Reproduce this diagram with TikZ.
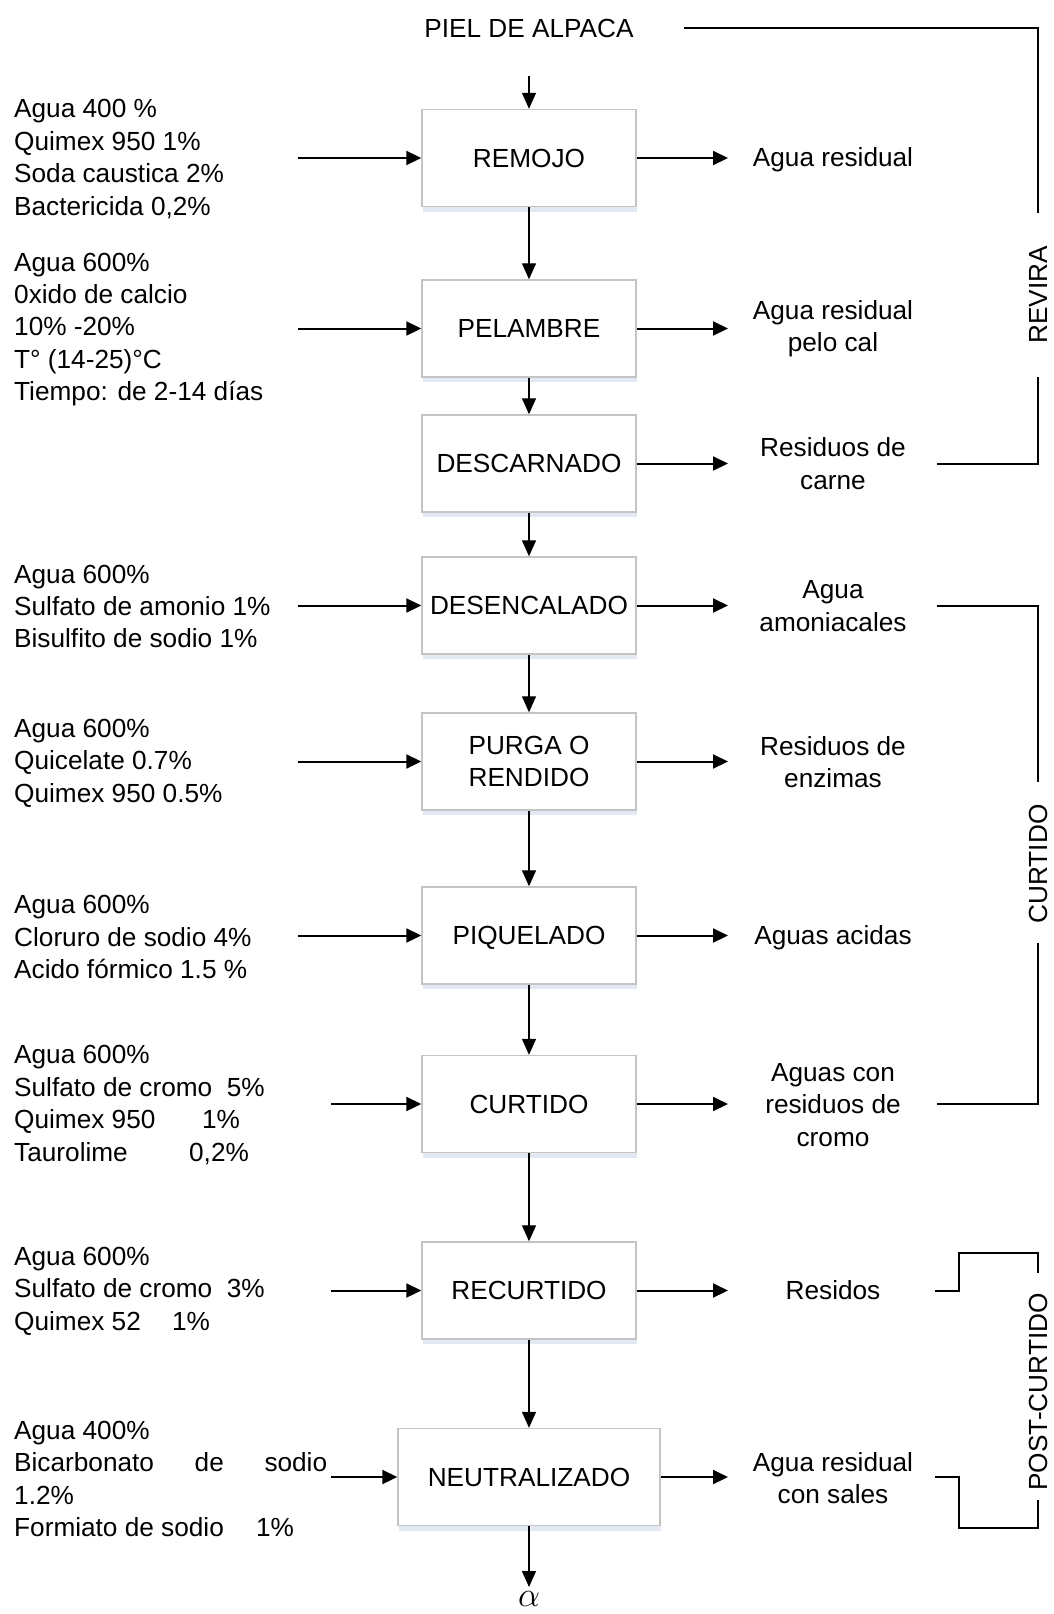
\documentclass[tikz,border=0pt]{standalone}
\usepackage{fontspec}
\setmainfont{Liberation Sans}
\usetikzlibrary{arrows.meta,shadows}
\definecolor{boxline}{RGB}{196,196,196}
\definecolor{boxshadow}{RGB}{226,233,243}
\begin{document}
\begin{tikzpicture}[x=1pt,y=-1pt,
  every node/.style={font=\fontsize{26.2}{32.4}\selectfont, inner sep=0pt},
  procbox/.style={draw=boxline, line width=1.4pt, fill=white, align=center,
    minimum width=214pt, minimum height=97pt,
    drop shadow={shadow xshift=1pt, shadow yshift=-5pt, fill=boxshadow, opacity=1}},
  inlbl/.style={anchor=west, align=left},
  outlbl/.style={align=center},
  flow/.style={line width=1.3pt, -{Triangle[length=16pt,width=14pt]}},
  feed/.style={line width=2pt, -{Triangle[length=15pt,width=14pt]}},
  brk/.style={line width=2pt},
  sidelbl/.style={rotate=90},
]
\useasboundingbox (0,0) rectangle (1053,1614);

% process boxes
\node (piel) at (529,28) {PIEL DE ALPACA};
\node[procbox] (remojo) at (529,158) {REMOJO};
\node[procbox] (pelambre) at (529,328.5) {PELAMBRE};
\node[procbox] (descarnado) at (529,463.5) {DESCARNADO};
\node[procbox] (desencalado) at (529,605.5) {DESENCALADO};
\node[procbox] (purga) at (529,761.5) {PURGA O\\RENDIDO};
\node[procbox, text depth=0pt] (piquelado) at (529,935.5) {PIQUELADO};
\node[procbox] (curtido) at (529,1104) {CURTIDO};
\node[procbox] (recurtido) at (529,1290.5) {RECURTIDO};
\node[procbox, minimum width=262pt] (neutralizado) at (529,1477) {NEUTRALIZADO};
\node[anchor=north] (alpha) at (529,1591) {\scalebox{1.4}{$\alpha$}};

% main flow
\draw[flow, shorten <=39pt] (piel.south) -- (remojo.north);
\draw[flow] (remojo) -- (pelambre);
\draw[flow] (pelambre) -- (descarnado);
\draw[flow] (descarnado) -- (desencalado);
\draw[flow] (desencalado) -- (purga);
\draw[flow] (purga) -- (piquelado);
\draw[flow] (piquelado) -- (curtido);
\draw[flow] (curtido) -- (recurtido);
\draw[flow] (recurtido) -- (neutralizado);
\draw[flow, shorten >=4pt] (neutralizado) -- (alpha.north);

% input labels
\node[inlbl] (in1) at (14,159) {Agua 400 \%\\Quimex 950 1\%\\Soda caustica 2\%\\Bactericida 0,2\%};
\node[inlbl] (in2) at (14,329.5) {Agua 600\%\\0xido de calcio\\10\% -20\%\\T° (14-25)°C\\Tiempo: de 2-14 días};
\node[inlbl] (in3) at (14,606.5) {Agua 600\%\\Sulfato de amonio 1\%\\Bisulfito de sodio 1\%};
\node[inlbl] (in4) at (14,763) {Agua 600\%\\Quicelate 0.7\%\\Quimex 950 0.5\%};
\node[inlbl] (in5) at (14,937) {Agua 600\%\\Cloruro de sodio 4\%\\Acido fórmico 1.5 \%};
\node[inlbl] (in6) at (14,1105) {Agua 600\%\\Sulfato de cromo\ \ 5\%\\\makebox[188pt][l]{Quimex 950}1\%\\\makebox[175pt][l]{Taurolime}0,2\%};
\node[inlbl] (in7) at (14,1291) {Agua 600\%\\Sulfato de cromo\ \ 3\%\\\makebox[158pt][l]{Quimex 52}1\%};
\node[inlbl] (in8) at (14,1479) {Agua 400\%\\\makebox[313pt][l]{Bicarbonato\hfill de\hfill sodio}\\1.2\%\\\makebox[242pt][l]{Formiato de sodio}1\%};

% input arrow starts
\coordinate (f1) at (298,158);
\coordinate (f2) at (298,328.5);
\coordinate (f3) at (298,605.5);
\coordinate (f4) at (298,761.5);
\coordinate (f5) at (298,935.5);
\coordinate (f6) at (331,1104);
\coordinate (f7) at (331,1290.5);
\coordinate (f8) at (331,1477);
\draw[feed] (f1) -- (remojo.west);
\draw[feed] (f2) -- (pelambre.west);
\draw[feed] (f3) -- (desencalado.west);
\draw[feed] (f4) -- (purga.west);
\draw[feed] (f5) -- (piquelado.west);
\draw[feed] (f6) -- (curtido.west);
\draw[feed] (f7) -- (recurtido.west);
\draw[feed] (f8) -- (neutralizado.west);

% output labels
\node[outlbl] (out1) at (833,160) {Agua residual};
\node[outlbl] (out2) at (833,328.5) {Agua residual\\pelo cal};
\node[outlbl] (out3) at (833,463.5) {Residuos de\\carne};
\node[outlbl] (out4) at (833,606) {Agua\\amoniacales};
\node[outlbl] (out5) at (833,762) {Residuos de\\enzimas};
\node[outlbl] (out6) at (833,938) {Aguas acidas};
\node[outlbl] (out7) at (833,1105) {Aguas con\\residuos de\\cromo};
\node[outlbl] (out8) at (833,1290.5) {Residos};
\node[outlbl] (out9) at (833,1478) {Agua residual\\con sales};

% output arrow ends
\coordinate (g1) at (728,158);
\coordinate (g2) at (728,328.5);
\coordinate (g3) at (728,463.5);
\coordinate (g4) at (728,605.5);
\coordinate (g5) at (728,761.5);
\coordinate (g6) at (728,935.5);
\coordinate (g7) at (728,1104);
\coordinate (g8) at (728,1290.5);
\coordinate (g9) at (728,1477);
\draw[feed] (remojo.east) -- (g1);
\draw[feed] (pelambre.east) -- (g2);
\draw[feed] (descarnado.east) -- (g3);
\draw[feed] (desencalado.east) -- (g4);
\draw[feed] (purga.east) -- (g5);
\draw[feed] (piquelado.east) -- (g6);
\draw[feed] (curtido.east) -- (g7);
\draw[feed] (recurtido.east) -- (g8);
\draw[feed] (neutralizado.east) -- (g9);

% side brackets
\node[sidelbl] (revira) at (1038,295) {REVIRA};
\node[sidelbl] (curt) at (1038,864) {CURTIDO};
\node[sidelbl] (post) at (1038,1392) {POST-CURTIDO};

\coordinate (r0) at (684,28);
\coordinate (r1) at (1038,28);
\coordinate (r2) at (1038,213);
\coordinate (r3) at (1038,377);
\coordinate (r4) at (1038,463.5);
\coordinate (r5) at (937,463.5);
\draw[brk] (r0) -- (r1) -- (r2);
\draw[brk] (r3) -- (r4) -- (r5);

\coordinate (c0) at (937,605.5);
\coordinate (c1) at (1038,605.5);
\coordinate (c2) at (1038,782);
\coordinate (c3) at (1038,943);
\coordinate (c4) at (1038,1104);
\coordinate (c5) at (937,1104);
\draw[brk] (c0) -- (c1) -- (c2);
\draw[brk] (c3) -- (c4) -- (c5);

\coordinate (p0) at (935,1290.5);
\coordinate (p1) at (959,1290.5);
\coordinate (p2) at (959,1253);
\coordinate (p3) at (1038,1253);
\coordinate (p4) at (1038,1273);
\coordinate (p5) at (1038,1500);
\coordinate (p6) at (1038,1528);
\coordinate (p7) at (959,1528);
\coordinate (p8) at (959,1477);
\coordinate (p9) at (935,1477);
\draw[brk] (p0) -- (p1) -- (p2) -- (p3) -- (p4);
\draw[brk] (p5) -- (p6) -- (p7) -- (p8) -- (p9);
\end{tikzpicture}
\end{document}
